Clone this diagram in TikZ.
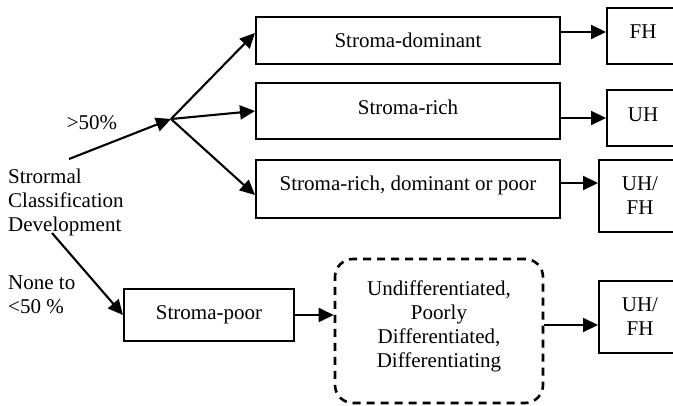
\documentclass[tikz,border=0pt]{standalone}
\usepackage{fontspec}
\setmainfont{Liberation Serif}
\usetikzlibrary{arrows.meta}

\tikzset{
            stromabox/.style = {draw=black, line width=2pt, inner sep=0pt, minimum height=#1, align=center},
            dashbox/.style = {draw=black, line width=2.6pt, dash pattern=on 8pt off 6pt, rounded corners=18pt, inner sep=0pt, align=center},
            arr/.style = {draw=black, line width=2.1pt, -{Triangle[length=15pt,width=14pt]}},
            plain/.style = {inner sep=0pt, align=left}
        }

\begin{document}
\begin{tikzpicture}[x=1pt, y=-1pt, font={\fontsize{21}{24}\selectfont}]
            \useasboundingbox (0,0) rectangle (673,406);
            \clip (0,0) rectangle (673,406);

            \node[plain, anchor=west] (class) at (8, 202) {Strormal\\Classification\\Development};
            \node[plain, anchor=west] (none) at (8, 294.5) {None to\\<50 \%};
            \node[plain] (over) at (92, 123) {>50\%};

            \coordinate (start) at (69, 159);
            \coordinate (fork) at (171, 119);
            \coordinate (devend) at (52, 233);

            
            \node[stromabox=47pt, minimum width=304pt] (dom) at (408, 40.5) {Stroma-dominant};
            \node[stromabox=56pt, minimum width=304pt] (rich) at (408, 111) {\raisebox{4pt}[\height][\depth]{Stroma-rich}};
            \node[stromabox=58pt, minimum width=304pt] (rdp) at (408, 189) {\raisebox{4pt}[\height][\depth]{Stroma-rich, dominant or poor}};

            
            \node[stromabox=56pt, minimum width=72pt] (fh) at (643, 36) {\raisebox{4pt}[\height][\depth]{FH}};
            \node[stromabox=56pt, minimum width=72pt] (uh) at (643, 118) {\raisebox{3pt}[\height][\depth]{UH}};
            \node[stromabox=72pt, minimum width=82pt] (uhfh) at (640, 196) {UH/\\FH};

            
            \node[stromabox=52pt, minimum width=170pt] (poor) at (209, 315) {Stroma-poor};
            \node[dashbox, minimum width=208pt, minimum height=144pt] (diff) at (439, 331) {\raisebox{4pt}[\height][\depth]{\begin{tabular}{@{}c@{}}Undifferentiated,\\Poorly\\Differentiated,\\Differentiating\end{tabular}}};
            \node[stromabox=72pt, minimum width=82pt] (uhfh2) at (640, 317) {UH/\\FH};

            
            \draw[arr] (start) -- (fork);
            \draw[arr] (fork) -- ([yshift=7.5pt]dom.west);
            \draw[arr] (fork) -- (rich.west);
            \draw[arr] (fork) -- ([yshift=-6pt]rdp.west);

            \draw[arr] ([yshift=8.5pt]dom.east) -- ([yshift=4pt]fh.west);
            \draw[arr] ([yshift=-7pt]rich.east) -- (uh.west);
            \draw[arr] ([yshift=6pt]rdp.east) -- ([yshift=13pt]uhfh.west);

            \draw[arr] (devend) -- (poor.west);
            \draw[arr] (poor.east) -- (poor.east -| diff.west);
            \draw[arr] ([yshift=6pt]diff.east) -- ([yshift=6pt]diff.east -| uhfh2.west);
        \end{tikzpicture}
\end{document}
